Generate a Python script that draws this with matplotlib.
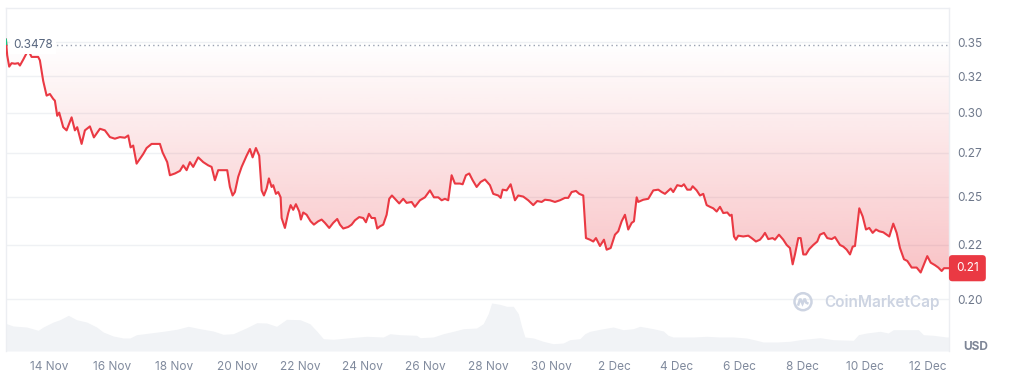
import numpy as np
import matplotlib
matplotlib.use("Agg")
import matplotlib.pyplot as plt
from matplotlib.path import Path
from matplotlib.patches import Circle, PathPatch
from matplotlib.ticker import FixedLocator, FixedFormatter, NullLocator, FuncFormatter
from matplotlib.transforms import blended_transform_factory
from datetime import datetime, timedelta

plt.rcParams['font.family'] = ['Inter', 'DejaVu Sans']

# ---------------- data ----------------
START = datetime(2024, 11, 12)   # day 0 = 12 Nov 00:00

price_days = [
    0.631, 0.672, 0.736, 0.812, 0.917, 1.022, 1.077, 1.182, 1.341, 1.449, 1.554, 1.659, 1.713,
    1.819, 1.927, 2.032, 2.137, 2.191, 2.265, 2.328, 2.456, 2.564, 2.723, 2.828, 2.902, 3.042,
    3.147, 3.306, 3.433, 3.625, 3.784, 3.943, 4.102, 4.262, 4.421, 4.526, 4.602, 4.685, 4.793,
    4.899, 5.004, 5.112, 5.271, 5.430, 5.536, 5.622, 5.695, 5.768, 5.854, 6.013, 6.173, 6.278,
    6.386, 6.491, 6.596, 6.755, 6.915, 7.074, 7.182, 7.287, 7.392, 7.551, 7.679, 7.765, 7.851,
    7.924, 8.029, 8.138, 8.297, 8.402, 8.488, 8.593, 8.698, 8.775, 8.848, 8.934, 9.007, 9.093,
    9.144, 9.230, 9.303, 9.380, 9.412, 9.517, 9.622, 9.698, 9.781, 9.867, 9.972, 10.026, 10.100,
    10.208, 10.335, 10.440, 10.577, 10.686, 10.791, 10.928, 11.055, 11.183, 11.269, 11.374,
    11.533, 11.641, 11.746, 11.883, 12.011, 12.097, 12.192, 12.278, 12.384, 12.457, 12.543,
    12.648, 12.756, 12.839, 12.925, 13.020, 13.157, 13.285, 13.393, 13.552, 13.657, 13.817,
    13.976, 14.135, 14.263, 14.400, 14.508, 14.613, 14.718, 14.826, 14.931, 15.091, 15.177,
    15.282, 15.387, 15.495, 15.623, 15.750, 15.887, 16.046, 16.151, 16.311, 16.387, 16.451,
    16.578, 16.706, 16.843, 16.948, 17.107, 17.266, 17.426, 17.553, 17.693, 17.798, 17.957,
    18.117, 18.276, 18.435, 18.540, 18.648, 18.786, 18.891, 19.018, 19.104, 19.232, 19.337,
    19.423, 19.550, 19.677, 19.763, 19.891, 20.028, 20.133, 20.241, 20.346, 20.451, 20.560,
    20.633, 20.719, 20.770, 20.929, 21.089, 21.248, 21.407, 21.515, 21.620, 21.802, 21.884,
    22.012, 22.152, 22.225, 22.330, 22.439, 22.502, 22.630, 22.735, 22.840, 22.948, 23.053,
    23.158, 23.267, 23.372, 23.477, 23.605, 23.690, 23.744, 23.818, 23.881, 23.955, 24.114,
    24.273, 24.381, 24.518, 24.646, 24.731, 24.805, 24.910, 25.050, 25.123, 25.251, 25.388,
    25.496, 25.601, 25.687, 25.760, 25.866, 25.942, 26.025, 26.111, 26.216, 26.344, 26.471,
    26.557, 26.684, 26.789, 26.930, 27.035, 27.194, 27.300, 27.408, 27.513, 27.599, 27.672,
    27.809, 27.917, 28.022, 28.127, 28.235, 28.340, 28.445, 28.573, 28.681, 28.764, 28.891,
    28.999, 29.105, 29.232, 29.338, 29.477, 29.637, 29.764, 29.869, 29.974, 30.083, 30.220,
    30.325, 30.433, 30.507, 30.666,
]
price_values = [
    0.3519, 0.3401, 0.3318, 0.3343, 0.3339, 0.3343, 0.3326, 0.3369, 0.3439, 0.3389, 0.3389, 0.3389, 0.3364,
    0.3216, 0.3115, 0.3126, 0.3093, 0.3081, 0.2981, 0.3002, 0.2908, 0.2888, 0.2971, 0.2888, 0.2908, 0.2804,
    0.2888, 0.2913, 0.2844, 0.2898, 0.2888, 0.2846, 0.2836, 0.2846, 0.2842, 0.2856, 0.2783, 0.2794, 0.2686,
    0.2714, 0.2743, 0.2779, 0.2804, 0.2804, 0.2804, 0.2752, 0.2723, 0.2695, 0.2619, 0.2629, 0.2644, 0.2676,
    0.2648, 0.2695, 0.2667, 0.2723, 0.2695, 0.2676, 0.2667, 0.2591, 0.2648, 0.2648, 0.2648, 0.2553, 0.2506,
    0.2525, 0.2610, 0.2667, 0.2733, 0.2773, 0.2723, 0.2779, 0.2733, 0.2534, 0.2506, 0.2544, 0.2601, 0.2553,
    0.2563, 0.2515, 0.2525, 0.2496, 0.2386, 0.2335, 0.2412, 0.2454, 0.2429, 0.2459, 0.2420, 0.2378, 0.2415,
    0.2403, 0.2369, 0.2352, 0.2369, 0.2378, 0.2361, 0.2335, 0.2361, 0.2381, 0.2352, 0.2332,
    0.2340, 0.2352, 0.2374, 0.2391, 0.2386, 0.2364, 0.2408, 0.2386, 0.2386, 0.2332, 0.2343,
    0.2352, 0.2403, 0.2488, 0.2506, 0.2488, 0.2463, 0.2488, 0.2466, 0.2471, 0.2445, 0.2480,
    0.2496, 0.2534, 0.2496, 0.2496, 0.2480, 0.2488, 0.2480, 0.2619, 0.2572, 0.2572, 0.2568,
    0.2619, 0.2629, 0.2591, 0.2553, 0.2581, 0.2595, 0.2563, 0.2515, 0.2506, 0.2493, 0.2538,
    0.2534, 0.2568, 0.2480, 0.2506, 0.2500, 0.2480, 0.2454, 0.2476, 0.2471, 0.2483, 0.2480,
    0.2471, 0.2480, 0.2493, 0.2493, 0.2525, 0.2531, 0.2515, 0.2506, 0.2284, 0.2276, 0.2267,
    0.2284, 0.2245, 0.2276, 0.2227, 0.2235, 0.2301, 0.2318, 0.2369, 0.2403, 0.2327, 0.2361,
    0.2369, 0.2496, 0.2471, 0.2483, 0.2488, 0.2534, 0.2538, 0.2525, 0.2515, 0.2544, 0.2525,
    0.2563, 0.2557, 0.2568, 0.2538, 0.2538, 0.2557, 0.2534, 0.2506, 0.2515, 0.2454, 0.2445,
    0.2437, 0.2420, 0.2445, 0.2412, 0.2415, 0.2398, 0.2403, 0.2292, 0.2276, 0.2296, 0.2292,
    0.2296, 0.2284, 0.2267, 0.2276, 0.2292, 0.2310, 0.2279, 0.2284, 0.2276, 0.2301, 0.2276,
    0.2250, 0.2235, 0.2157, 0.2204, 0.2284, 0.2284, 0.2204, 0.2204, 0.2230, 0.2250, 0.2267,
    0.2301, 0.2310, 0.2284, 0.2279, 0.2289, 0.2250, 0.2242, 0.2227, 0.2204, 0.2242, 0.2245,
    0.2437, 0.2394, 0.2327, 0.2335, 0.2310, 0.2327, 0.2318, 0.2313, 0.2301, 0.2292, 0.2357,
    0.2310, 0.2235, 0.2181, 0.2173, 0.2142, 0.2142, 0.2119, 0.2157, 0.2196, 0.2165, 0.2153,
    0.2142, 0.2126, 0.2139, 0.2139,
]

volume_days = [
    0.63, 0.653, 0.863, 1.29, 1.66, 1.82, 2.14, 2.35, 2.62, 2.88, 3.20, 3.52, 3.73, 4.05, 4.37, 4.58,
    4.79, 5.22, 5.64, 6.07, 6.44, 6.81, 7.23, 7.55, 7.87, 8.30, 8.62, 8.93, 9.25, 9.57, 10.0,
    10.31, 10.53, 10.74, 11.06, 11.59, 12.12, 12.65, 12.86, 13.18, 13.71, 13.82, 14.24, 14.56,
    14.88, 15.20, 15.62, 15.83, 15.99, 16.10, 16.36, 16.58, 16.79, 16.95, 17.06, 17.16, 17.43,
    17.74, 18.06, 18.38, 18.59, 18.91, 19.07, 19.23, 19.55, 19.97, 20.29, 20.61, 20.82, 21.25,
    21.57, 21.72, 21.88, 22.52, 22.95, 23.37, 23.80, 24.22, 24.54, 24.75, 25.18, 25.60, 25.92,
    26.56, 26.98, 27.62, 27.78, 28.04, 28.47, 28.73, 28.89, 29.69, 29.85, 30.17, 30.59, 30.666,
]
volume_values = [
    27.3, 27.3, 25.0, 24.0, 20.7, 24.0, 29.0, 31.3, 35.7, 31.3, 29.0, 24.0, 19.0, 15.0, 13.0, 13.0,
    16.3, 18.0, 19.7, 21.7, 24.7, 22.3, 20.0, 16.7, 17.3, 23.3, 28.3, 28.0, 24.7, 31.7, 31.3,
    27.3, 20.0, 12.3, 11.7, 13.3, 14.7, 14.0, 17.3, 16.3, 15.7, 13.3, 14.0, 17.3,
    19.7, 22.3, 23.0, 27.3, 37.3, 48.0, 46.7, 44.7, 44.7, 37.3, 24.0, 14.0, 13.0,
    9.7, 7.3, 8.0, 11.3, 12.3, 17.3, 19.7, 21.7, 24.0, 21.3, 22.3, 24.7, 22.3,
    20.0, 15.7, 14.0, 14.0, 14.7, 14.0, 14.0, 13.0, 10.7, 9.0, 9.0, 9.7, 11.3,
    13.3, 11.3, 10.7, 16.3, 18.0, 19.7, 18.0, 21.3, 21.3, 16.3, 15.7, 14.0, 14.0,
]

baseline_price = 0.3478
baseline_label = "0.3478"
last_price_label = "0.21"
y_ticks = [0.20, 0.225, 0.25, 0.275, 0.30, 0.325, 0.35]
y_tick_labels = ["0.20", "0.22", "0.25", "0.27", "0.30", "0.32", "0.35"]
x_tick_days = [float(d) for d in range(2, 31, 2)]
currency_label = "USD"
watermark = "CoinMarketCap"

# ---------------- style ----------------
RED = '#ea3943'
GREEN = '#16c784'
GRID = '#eff1f4'
LABEL = '#6e788b'
W, H = 1011, 374
x0, x1 = 0.634, 30.666

days = np.array(price_days)
prices = np.array(price_values)

fig = plt.figure(figsize=(W / 100, H / 100), dpi=100)
rect = [6 / W, 23 / H, 943 / W, 343 / H]

# volume (background)
vax = fig.add_axes(rect, zorder=0)
vax.fill_between(volume_days, volume_values, 0, color='#f1f3f6', lw=0)
vax.set_xlim(x0, x1)
vax.set_ylim(0, 343)
vax.axis('off')

ax = fig.add_axes(rect, zorder=1)
ax.patch.set_alpha(0)
ax.set_yscale('log')

# gradient fill between line and baseline
red_rgb = np.array(matplotlib.colors.to_rgb(RED))
grad = np.zeros((256, 1, 4))
grad[..., :3] = red_rgb
grad[:, 0, 3] = np.linspace(0.0, 0.30, 256)
im = ax.imshow(grad, extent=[0, 1, 0.227, 0.895], transform=ax.transAxes,
               aspect='auto', origin='upper', interpolation='bilinear', zorder=1)
fill_y = np.minimum(prices, baseline_price)
verts = np.column_stack([np.r_[days, days[::-1], days[:1]],
                         np.r_[fill_y, np.full(len(days), baseline_price), fill_y[:1]]])
im.set_clip_path(Path(verts, closed=True), ax.transData)

# grid + baseline
ax.yaxis.grid(True, color=GRID, lw=1, zorder=0)
ax.xaxis.grid(False)
ax.set_axisbelow(True)
ax.axhline(baseline_price, color='#9aa2b1', lw=1, ls=(0, (1, 2.3)), zorder=2)

# price line
ax.plot(days, prices, color=RED, lw=1.5, zorder=3, solid_joinstyle='round')
gl, = ax.plot(days, prices, color=GREEN, lw=1.5, zorder=3.1, solid_joinstyle='round')
clip_rect = Path([(x0 - 1, baseline_price), (x1 + 1, baseline_price), (x1 + 1, 1.0),
                  (x0 - 1, 1.0), (x0 - 1, baseline_price)], closed=True)
gl.set_clip_path(clip_rect, ax.transData)

bt = blended_transform_factory(ax.transAxes, ax.transData)
ax.text(7 / 943, baseline_price, baseline_label, transform=bt, ha='left', va='center',
        fontsize=8.5, color='#58667e', zorder=5,
        bbox=dict(boxstyle='square,pad=0.25', fc='white', ec='none'))

ax.text(1 + 7 / 943, prices[-1], last_price_label, transform=bt, ha='left', va='center',
        fontsize=8.5, color='white', zorder=6, clip_on=False,
        bbox=dict(boxstyle='round,pad=0.6,rounding_size=0.3', fc=RED, ec='none'))

# axes
ax.set_xlim(x0, x1)
ax.set_ylim(0.1786, 0.377)
ax.yaxis.tick_right()
ax.yaxis.set_major_locator(FixedLocator(y_ticks))
ax.yaxis.set_major_formatter(FixedFormatter(y_tick_labels))
ax.yaxis.set_minor_locator(NullLocator())
ax.xaxis.set_major_locator(FixedLocator(x_tick_days))


def fmt_day(v, pos=None):
    dt = START + timedelta(days=float(v))
    return f"{dt.day} {dt.strftime('%b')}"


ax.xaxis.set_major_formatter(FuncFormatter(fmt_day))
ax.tick_params(axis='y', length=0, pad=6, labelsize=8.5, labelcolor=LABEL)
ax.tick_params(axis='x', length=0, pad=7, labelsize=8.5, labelcolor='#808a9d')
for s in ['top', 'left', 'right']:
    ax.spines[s].set_color('#eceef2')
    ax.spines[s].set_linewidth(1)
ax.spines['bottom'].set_visible(False)

# currency label
fig.text(976 / W, 1 - 347 / H, currency_label, ha='center', va='center',
         fontsize=8.5, fontweight='bold', color='#7d8596')

# watermark
wm_col = '#cdd4e2'
cx, cy = 803 / 100, (H - 301.7) / 100
ring = Circle((cx, cy), 0.085, transform=fig.dpi_scale_trans,
              fill=False, ec=wm_col, lw=1.8)
fig.patches.append(ring)
wave = Path([(cx - 0.05, cy - 0.04), (cx - 0.028, cy + 0.03), (cx - 0.005, cy - 0.02),
             (cx + 0.017, cy + 0.03), (cx + 0.033, cy - 0.01), (cx + 0.055, cy - 0.02)])
fig.patches.append(PathPatch(wave, transform=fig.dpi_scale_trans, fill=False, ec=wm_col, lw=1.8))
fig.text(824 / W, 1 - 302.5 / H, watermark, ha='left', va='center', fontsize=11,
         fontweight='semibold', color=wm_col)

fig.savefig('out.png', dpi=100)
